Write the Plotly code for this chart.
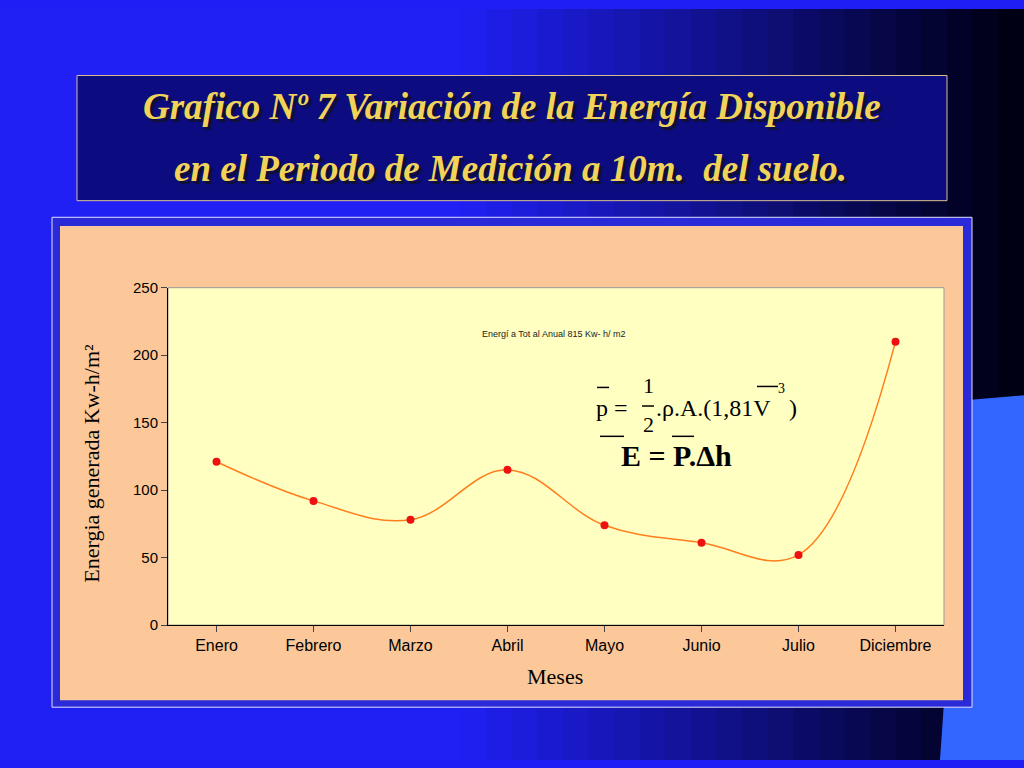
import plotly.graph_objects as go

meses = ["Enero", "Febrero", "Marzo", "Abril", "Mayo", "Junio", "Julio", "Diciembre"]
energia = [121, 92, 78, 115, 74, 61, 52, 210]
y_ticks = [0, 50, 100, 150, 200, 250]

W, H = 1024, 768


def px(x):
    return x / W


def py(y):
    return 1 - y / H


fig = go.Figure()
fig.add_trace(go.Scatter(
    x=meses, y=energia, mode="lines+markers",
    line=dict(color="#ff7f1e", width=1.5, shape="spline", smoothing=1.1),
    marker=dict(color="#ee1111", size=8),
    showlegend=False,
))

shapes = []
# background gradient blue -> black
n = 40
for i in range(n):
    t = i / (n - 1)
    f = max(0.0, (t - 0.45) / 0.55)
    r = int(32 * (1 - f))
    g = int(32 * (1 - f))
    b = int(245 * (1 - f) + 20 * f)
    shapes.append(dict(type="rect", xref="paper", yref="paper", layer="below",
                       x0=i / n, x1=(i + 1) / n + 0.002, y0=0, y1=1,
                       fillcolor=f"rgb({r},{g},{b})", line_width=0))
# light blue shape lower right
shapes.append(dict(type="path", xref="paper", yref="paper", layer="below",
                   path=f"M {px(940)},{py(768)} L {px(965)},{py(400)} L {px(1024)},{py(395)} L {px(1024)},{py(768)} Z",
                   fillcolor="#3366ff", line_width=0))
# title box
shapes.append(dict(type="rect", xref="paper", yref="paper", layer="below",
                   x0=px(77), x1=px(947), y0=py(196), y1=py(68),
                   fillcolor="#0c0c80", line=dict(color="#d8c090", width=1)))
# chart panel
shapes.append(dict(type="rect", xref="paper", yref="paper", layer="below",
                   x0=px(52), x1=px(972), y0=py(714), y1=py(213),
                   fillcolor="#2a2ad8", line=dict(color="#e0e0ff", width=1)))
shapes.append(dict(type="rect", xref="paper", yref="paper", layer="below",
                   x0=px(60), x1=px(963), y0=py(707), y1=py(222),
                   fillcolor="#fdc899", line_width=0))
# formula overline bars and fraction bar
for x0, x1, y in [(597, 609, 387), (642, 654, 406), (757, 778, 386), (600, 624, 437), (672, 694, 437)]:
    shapes.append(dict(type="line", xref="paper", yref="paper",
                       x0=px(x0), x1=px(x1), y0=py(y), y1=py(y),
                       line=dict(color="black", width=1.5)))

serif = "Liberation Serif"


def note(text, x, y, size, color="black", family=serif, **kw):
    font = dict(family=family, size=size, color=color)
    font.update(kw.pop("font_extra", {}))
    return dict(text=text, x=px(x), y=py(y), xref="paper", yref="paper", showarrow=False,
                xanchor="center", yanchor="middle", font=font, **kw)


shadow = {"shadow": "3px 3px 1px #101030"}
annotations = [
    note("<b><i>Grafico Nº 7 Variación de la Energía Disponible</i></b>", 512, 100, 37, "#f2d35a",
         font_extra=shadow),
    note("<b><i>en el Periodo de Medición a 10m.  del suelo.</i></b>", 510, 163, 37, "#f2d35a",
         font_extra=shadow),
    note("Energí a Tot al Anual 815 Kw- h/ m2", 553, 332, 9, "#222", "Arial"),
    note("p =", 612, 408, 24),
    note("1", 648, 385, 22),
    note("2", 648, 425, 22),
    note(".ρ.A.(1,81V", 713, 408, 24),
    note("3", 781, 388, 14),
    note(")", 793, 408, 24),
    note("<b>E = P.Δh</b>", 676, 457, 30),
    note("Energia generada Kw-h/m²", 92, 465, 22, textangle=-90),
    note("Meses", 555, 683, 22),
]

fig.update_layout(
    width=W, height=H,
    margin=dict(l=0, r=0, t=0, b=0),
    paper_bgcolor="#1f1ff5",
    plot_bgcolor="#ffffc2",
    shapes=shapes,
    annotations=annotations,
    xaxis=dict(domain=[px(168), px(944)], range=[-0.5, 7.5], showgrid=False,
               showline=True, linecolor="black", ticks="outside", ticklen=6,
               tickfont=dict(family="Arial", size=16, color="black")),
    yaxis=dict(domain=[py(630), py(285)], range=[0, 250], tickvals=y_ticks, showgrid=False,
               showline=True, linecolor="black", ticks="outside", ticklen=6,
               tickfont=dict(family="Arial", size=15, color="black")),
)
fig.add_shape(type="rect", xref="paper", yref="paper", layer="below",
              x0=px(168), x1=px(944), y0=py(630), y1=py(285),
              fillcolor="#ffffc2", line=dict(color="#999", width=1))

fig.write_html("out.html", config={"displayModeBar": False},
               post_script="document.body.style.margin='0';document.body.style.overflow='hidden';"
                           "window.scrollTo(0,0);")
